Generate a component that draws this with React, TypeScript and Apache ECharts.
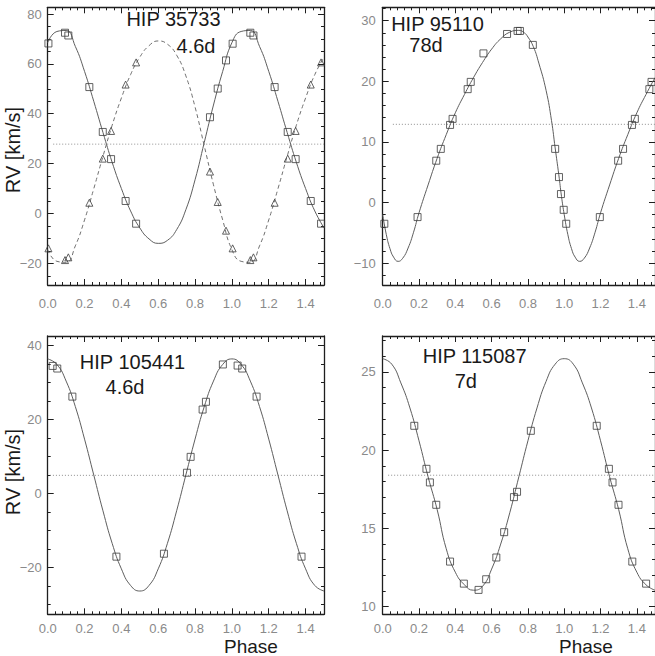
import React, { useEffect, useRef } from 'react';
import * as echarts from 'echarts';

const W = 655;
const H = 656;

// ---------- tick values ----------
const xMajor = [0, 0.2, 0.4, 0.6, 0.8, 1.0, 1.2, 1.4];
const p1YMajor = [-20, 0, 20, 40, 60, 80];
const p2YMajor = [-10, 0, 10, 20, 30];
const p3YMajor = [-20, 0, 20, 40];
const p4YMajor = [10, 15, 20, 25];

// ---------- HIP 35733 (SB2) ----------
const p1Phase = [0.004, 0.094, 0.112, 0.226, 0.299, 0.344, 0.423, 0.48, 0.881, 0.923, 0.968, 1.004, 1.1, 1.117, 1.232, 1.303, 1.346, 1.428, 1.484];
const p1Primary = [68.2, 72.5, 71.4, 50.7, 32.7, 21.8, 5.0, -4.1, 38.6, 50.1, 61.4, 68.1, 72.5, 71.4, 50.7, 32.7, 21.8, 5.0, -4.1];
const p1Secondary = [-14.0, -18.7, -17.6, 4.3, 22.0, 33.1, 51.7, 60.6, 16.8, 4.6, -6.9, -14.0, -18.7, -17.6, 4.3, 22.0, 33.1, 51.7, 60.6];
const curvePhase = [0, 0.05, 0.1, 0.15, 0.2, 0.25, 0.3, 0.35, 0.4, 0.45, 0.5, 0.55, 0.6, 0.65, 0.7, 0.75, 0.8, 0.85, 0.9, 0.95, 1.0];
const p1PrimaryCurve = [68.5, 73.0, 73.4, 67.0, 57.0, 45.0, 32.5, 20.5, 10.0, 1.0, -5.8, -10.2, -12.0, -10.8, -6.5, 1.5, 13.5, 28.5, 43.5, 57.0, 68.5];
const p1SecondaryCurve = [-14.5, -19.2, -19.6, -13.0, -2.6, 9.9, 22.9, 35.4, 46.3, 55.7, 62.7, 67.3, 69.2, 67.9, 63.5, 55.2, 42.7, 27.1, 11.5, -2.6, -14.5];

// ---------- HIP 95110 ----------
const p2Phase = [0.009, 0.192, 0.295, 0.32, 0.371, 0.385, 0.468, 0.485, 0.555, 0.685, 0.743, 0.756, 0.827, 0.95, 0.971, 0.982, 0.997, 1.011, 1.196, 1.297, 1.324, 1.373, 1.389, 1.469, 1.481];
const p2Rv = [-3.5, -2.4, 6.9, 8.85, 12.8, 13.8, 18.7, 19.9, 24.6, 27.8, 28.3, 28.3, 26.0, 8.85, 4.2, 1.4, -1.2, -3.5, -2.4, 6.9, 8.85, 12.8, 13.8, 18.7, 19.9];
const p2CurvePhase = [0, 0.02, 0.04, 0.06, 0.085, 0.11, 0.14, 0.17, 0.2, 0.25, 0.3, 0.35, 0.4, 0.45, 0.5, 0.55, 0.6, 0.65, 0.7, 0.75, 0.78, 0.8, 0.83, 0.86, 0.9, 0.93, 0.95, 0.97, 0.985, 1.0];
const p2Curve = [-2.0, -5.3, -7.6, -9.0, -9.7, -9.2, -7.5, -4.9, -1.7, 2.9, 7.3, 11.2, 14.8, 17.8, 20.6, 23.1, 25.3, 27.0, 28.1, 28.4, 28.0, 27.3, 25.7, 23.0, 18.5, 13.5, 9.0, 4.6, 1.0, -2.0];

// ---------- HIP 105441 ----------
const p3Phase = [0.027, 0.052, 0.134, 0.373, 0.631, 0.756, 0.776, 0.841, 0.859, 0.951, 1.031, 1.056, 1.134, 1.378];
const p3Rv = [34.5, 33.8, 26.2, -17.1, -16.3, 5.6, 9.9, 22.7, 24.8, 34.9, 34.6, 33.8, 26.2, -17.1];
const p3Curve = [36.4, 34.9, 30.4, 23.5, 14.7, 5.0, -4.7, -13.5, -20.4, -24.9, -26.4, -24.9, -20.4, -13.5, -4.7, 5.0, 14.7, 23.5, 30.4, 34.9, 36.4];

// ---------- HIP 115087 ----------
const p4Phase = [0.174, 0.241, 0.26, 0.295, 0.371, 0.447, 0.528, 0.57, 0.626, 0.669, 0.723, 0.74, 0.816, 1.179, 1.246, 1.266, 1.299, 1.375, 1.451];
const p4Rv = [21.56, 18.81, 17.94, 16.51, 12.88, 11.47, 11.07, 11.75, 13.14, 14.76, 17.0, 17.34, 21.24, 21.56, 18.81, 17.94, 16.51, 12.88, 11.47];
const p4Curve = [25.85, 25.5, 24.3, 22.7, 20.6, 18.3, 16.2, 13.7, 12.2, 11.4, 11.05, 11.3, 12.4, 14.0, 16.0, 18.3, 20.6, 22.7, 24.4, 25.5, 25.85];

// systemic velocities (dotted lines)
const gamma = [27.8, 12.9, 4.9, 18.4];
const gammaStart = [0.03, 0.056, 0.012, 0.03];

const titles = [
  ['HIP 35733', '4.6d'],
  ['HIP 95110', '78d'],
  ['HIP 105441', '4.6d'],
  ['HIP 115087', '7d'],
];

// ---------- helpers ----------
const minorTicks = (lo: number, hi: number, step: number, majors: number[]) => {
  const out: number[] = [];
  const n0 = Math.ceil(lo / step - 1e-9);
  const n1 = Math.floor(hi / step + 1e-9);
  for (let n = n0; n <= n1; n++) {
    const v = Math.round(n * step * 1000) / 1000;
    if (!majors.some((m) => Math.abs(m - v) < 1e-6)) out.push(v);
  }
  return out;
};

const fold = (ph: number[], vals: number[]) => {
  const d: number[][] = ph.map((p, i) => [p, vals[i]]);
  ph.forEach((p, i) => {
    if (p > 0 && p + 1 <= 1.5001) d.push([p + 1, vals[i]]);
  });
  return d;
};
const pairs = (ph: number[], vals: number[]) => ph.map((p, i) => [p, vals[i]]);

const AX = '#1e1e1e';
const LBL = '#8a8a8a';
const FONT = '"Liberation Sans", Arial, sans-serif';
const CURVE = '#5e5e5e';
const MARK = '#3c3c3c';

const panels = [
  { grid: { left: 47.7, top: 7.3, width: 276.3, height: 277.7 }, yMin: -28.7, yMax: 82.7, yMajor: p1YMajor, yStep: 5, xMargin: 12, yMargin: 6 },
  { grid: { left: 382.7, top: 7.3, width: 276.5, height: 277.7 }, yMin: -13.6, yMax: 32.2, yMajor: p2YMajor, yStep: 2, xMargin: 12, yMargin: 7 },
  { grid: { left: 47.7, top: 336, width: 276.3, height: 278.3 }, yMin: -32.7, yMax: 42.6, yMajor: p3YMajor, yStep: 5, xMargin: 8, yMargin: 6 },
  { grid: { left: 382.7, top: 336, width: 276.5, height: 278.3 }, yMin: 9.51, yMax: 27.3, yMajor: p4YMajor, yStep: 1, xMargin: 8, yMargin: 7 },
];

const xMinor = minorTicks(0, 1.5, 0.04, xMajor);

const fmtY = (v: number) => String(v).replace('-', '\u2212');

function buildOption() {
  const xAxis: any[] = [];
  const yAxis: any[] = [];
  const series: any[] = [];
  const graphic: any[] = [];

  panels.forEach((p, gi) => {
    const line = { show: true, onZero: false, lineStyle: { color: AX, width: 1.3 } };
    const noLine = { show: false, onZero: false };
    const tickStyle = { color: AX, width: 1 };
    const xb = { gridIndex: gi, type: 'value', min: 0, max: 1.5, splitLine: { show: false } };
    xAxis.push(
      { ...xb, position: 'bottom', axisLine: line,
        axisTick: { show: true, inside: true, length: 6, customValues: xMajor, lineStyle: tickStyle },
        axisLabel: { show: true, customValues: xMajor, formatter: (v: number) => v.toFixed(1), margin: p.xMargin, color: LBL, fontSize: 13, fontFamily: FONT, lineHeight: 13 } },
      { ...xb, position: 'bottom', axisLine: noLine,
        axisTick: { show: true, inside: true, length: 3, customValues: xMinor, lineStyle: tickStyle }, axisLabel: { show: false } },
      { ...xb, position: 'top', axisLine: line,
        axisTick: { show: true, inside: true, length: 6, customValues: xMajor, lineStyle: tickStyle }, axisLabel: { show: false } },
      { ...xb, position: 'top', axisLine: noLine,
        axisTick: { show: true, inside: true, length: 3, customValues: xMinor, lineStyle: tickStyle }, axisLabel: { show: false } },
    );
    const yMinor = minorTicks(p.yMin, p.yMax, p.yStep, p.yMajor);
    const yb = { gridIndex: gi, type: 'value', min: p.yMin, max: p.yMax, splitLine: { show: false } };
    yAxis.push(
      { ...yb, position: 'left', axisLine: line,
        axisTick: { show: true, inside: true, length: 6, customValues: p.yMajor, lineStyle: tickStyle },
        axisLabel: { show: true, customValues: p.yMajor, formatter: fmtY, margin: p.yMargin, color: LBL, fontSize: 13, fontFamily: FONT } },
      { ...yb, position: 'left', axisLine: noLine,
        axisTick: { show: true, inside: true, length: 3, customValues: yMinor, lineStyle: tickStyle }, axisLabel: { show: false } },
      { ...yb, position: 'right', axisLine: line,
        axisTick: { show: true, inside: true, length: 6, customValues: p.yMajor, lineStyle: tickStyle }, axisLabel: { show: false } },
      { ...yb, position: 'right', axisLine: noLine,
        axisTick: { show: true, inside: true, length: 3, customValues: yMinor, lineStyle: tickStyle }, axisLabel: { show: false } },
    );

    const ax = { xAxisIndex: gi * 4, yAxisIndex: gi * 4 };
    series.push({
      ...ax, type: 'line', data: [[gammaStart[gi], gamma[gi]], [1.5, gamma[gi]]], showSymbol: false, silent: true,
      lineStyle: { color: '#8f8f8f', width: 1, type: [1, 2] }, z: 1,
    });
  });

  const curveLine = (gi: number, data: number[][], dashed = false) => ({
    xAxisIndex: gi * 4, yAxisIndex: gi * 4, type: 'line', data, smooth: 0.5, showSymbol: false, silent: true, z: 2,
    lineStyle: { color: dashed ? '#707070' : CURVE, width: 1, type: dashed ? [4, 3] : 'solid' },
  });
  const marks = (gi: number, data: number[][], symbol: string) => ({
    xAxisIndex: gi * 4, yAxisIndex: gi * 4, type: 'scatter', data, symbol, symbolSize: 7, silent: true, z: 3,
    itemStyle: { color: 'rgba(255,255,255,0)', borderColor: MARK, borderWidth: 1 },
  });

  series.push(
    curveLine(0, fold(curvePhase, p1PrimaryCurve)),
    curveLine(0, fold(curvePhase, p1SecondaryCurve), true),
    marks(0, pairs(p1Phase, p1Primary), 'rect'),
    marks(0, pairs(p1Phase, p1Secondary), 'triangle'),
    curveLine(1, fold(p2CurvePhase, p2Curve)),
    marks(1, pairs(p2Phase, p2Rv), 'rect'),
    curveLine(2, fold(curvePhase, p3Curve)),
    marks(2, pairs(p3Phase, p3Rv), 'rect'),
    curveLine(3, fold(curvePhase, p4Curve)),
    marks(3, pairs(p4Phase, p4Rv), 'rect'),
  );

  const txt = (x: number, y: number, text: string, rotation = 0, size = 20, lh = 17) => ({
    type: 'text', x, y, rotation, silent: true,
    style: { text, fill: '#1a1a1a', fontSize: size, fontFamily: FONT, lineHeight: lh, align: 'center', verticalAlign: 'middle', textAlign: 'center', textVerticalAlign: 'middle' },
  });
  graphic.push(
    txt(173.5, 18.5, titles[0][0]), txt(196, 46, titles[0][1]),
    txt(437.5, 24.3, titles[1][0]), txt(426, 45.4, titles[1][1]),
    txt(132.5, 361.8, titles[2][0]), txt(125, 386.7, titles[2][1]),
    txt(474.7, 355.5, titles[3][0]), txt(465.8, 380.8, titles[3][1]),
    txt(13, 150, 'RV [km/s]', Math.PI / 2, 20, 20),
    txt(13, 472, 'RV [km/s]', Math.PI / 2, 20, 20),
    txt(251, 646, 'Phase', 0, 19, 19),
    txt(586, 646, 'Phase', 0, 19, 19),
  );

  return {
    animation: false,
    backgroundColor: '#ffffff',
    grid: panels.map((p) => ({ ...p.grid, containLabel: false })),
    xAxis,
    yAxis,
    series,
    graphic,
  };
}

export default function App() {
  const ref = useRef<HTMLDivElement>(null);
  useEffect(() => {
    if (!ref.current) return;
    const chart = echarts.init(ref.current, null, { renderer: 'svg', width: W, height: H });
    chart.setOption(buildOption() as any);
    return () => chart.dispose();
  }, []);
  return (
    <div
      ref={ref}
      style={{ position: 'fixed', left: 0, top: 0, width: W, height: H, overflow: 'hidden', background: '#fff' }}
    />
  );
}
